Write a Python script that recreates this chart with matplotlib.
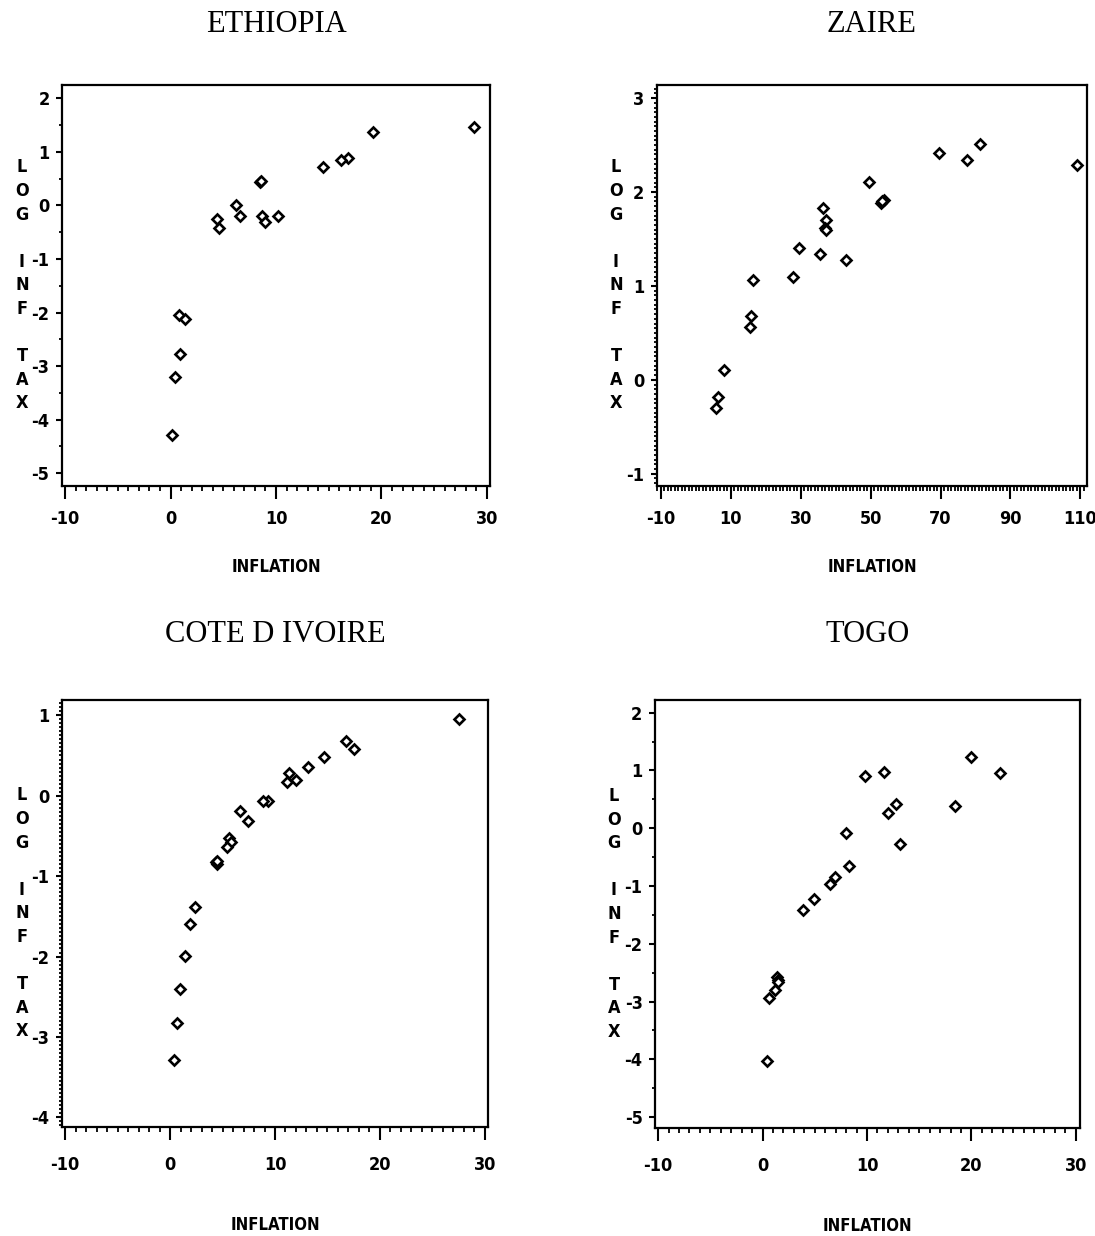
import matplotlib
matplotlib.use('Agg')
import matplotlib.pyplot as plt
from matplotlib.ticker import MultipleLocator

plt.rcParams['axes.unicode_minus'] = False

# data
eth_x = [28.8, 19.2, 16.8, 16.2, 14.5, 8.5, 8.55, 6.2, 6.6, 8.65, 9.0, 10.2, 4.4, 4.55, 0.8, 1.35, 0.87, 0.45, 0.13]
eth_y = [1.47, 1.37, 0.89, 0.84, 0.72, 0.44, 0.45, 0.0, -0.19, -0.19, -0.30, -0.19, -0.25, -0.42, -2.05, -2.13, -2.77, -3.20, -4.29]

zai_x = [109.0, 81.3, 77.7, 69.7, 49.4, 53.0, 53.7, 53.3, 36.5, 37.2, 37.0, 37.1, 29.6, 35.6, 42.9, 27.75, 16.3, 15.8, 15.6, 8.2, 6.3, 5.7]
zai_y = [2.29, 2.51, 2.34, 2.42, 2.11, 1.88, 1.92, 1.90, 1.83, 1.70, 1.62, 1.60, 1.40, 1.34, 1.28, 1.10, 1.06, 0.68, 0.56, 0.11, -0.18, -0.30]

cot_x = [27.5, 16.8, 17.5, 14.7, 13.1, 12.0, 11.3, 11.15, 9.3, 8.9, 7.4, 6.7, 5.6, 5.8, 5.4, 4.4, 4.5, 4.45, 2.4, 1.9, 1.4, 0.96, 0.7, 0.4]
cot_y = [0.95, 0.68, 0.58, 0.48, 0.36, 0.20, 0.28, 0.17, -0.06, -0.07, -0.32, -0.19, -0.52, -0.58, -0.64, -0.83, -0.85, -0.81, -1.39, -1.60, -1.99, -2.41, -2.83, -3.29]

tog_x = [22.7, 20.0, 18.4, 11.6, 9.8, 12.75, 12.0, 13.2, 8.0, 8.25, 6.95, 6.5, 4.9, 3.9, 1.4, 1.45, 1.5, 1.15, 0.6, 0.45]
tog_y = [0.95, 1.23, 0.38, 0.98, 0.90, 0.42, 0.26, -0.27, -0.08, -0.66, -0.85, -0.97, -1.23, -1.41, -2.58, -2.62, -2.67, -2.80, -2.94, -4.03]

countries = ['ETHIOPIA', 'ZAIRE', 'COTE D IVOIRE', 'TOGO']
xs = [eth_x, zai_x, cot_x, tog_x]
ys = [eth_y, zai_y, cot_y, tog_y]
xticks = [[-10, 0, 10, 20, 30], [-10, 10, 30, 50, 70, 90, 110],
          [-10, 0, 10, 20, 30], [-10, 0, 10, 20, 30]]
yticks = [[-5, -4, -3, -2, -1, 0, 1, 2], [-1, 0, 1, 2, 3],
          [-4, -3, -2, -1, 0, 1], [-5, -4, -3, -2, -1, 0, 1, 2]]

# layout (in pixels of a 1095x1236 canvas)
W, H = 1095., 1236.
boxes = [(62, 85, 490, 486), (657, 85, 1087, 486),
         (62, 700, 488, 1127), (655, 700, 1080, 1128)]
xlims = [(-10.3, 30.3), (-11.1, 111.9), (-10.3, 30.3), (-10.3, 30.4)]
ylims = [(-5.24, 2.25), (-1.13, 3.14), (-4.12, 1.19), (-5.19, 2.22)]
yminor = [0.5, 0.05, 0.05, 0.5]
title_y = [24, 634]
ylab_x = [22, 616, 22, 614]
xpad = [8, 12]
xlabpad = [22, 30]

TICKFONT = ['DejaVu Sans Condensed', 'DejaVu Sans']

fig = plt.figure(figsize=(W / 100, H / 100), dpi=100)

for i in range(4):
  l, t, r, b = boxes[i]
  row = i // 2
  ax = fig.add_axes([l / W, 1 - b / H, (r - l) / W, (b - t) / H])
  ax.plot(xs[i], ys[i], linestyle='none', marker='D', markersize=5.6,
          markerfacecolor='white', markeredgecolor='black', markeredgewidth=1.9)
  ax.set_xlim(*xlims[i])
  ax.set_ylim(*ylims[i])
  ax.set_xticks(xticks[i])
  ax.set_yticks(yticks[i])
  ax.xaxis.set_minor_locator(MultipleLocator(1))
  ax.yaxis.set_minor_locator(MultipleLocator(yminor[i]))
  ax.tick_params(axis='x', which='major', direction='out', length=9, width=1.5, pad=xpad[row])
  ax.tick_params(axis='x', which='minor', direction='out', length=3.5, width=1.3)
  ax.tick_params(axis='y', which='major', direction='out', length=4, width=1.5, pad=5)
  ax.tick_params(axis='y', which='minor', direction='out', length=2.5, width=1.3)
  for lab in ax.get_xticklabels() + ax.get_yticklabels():
    lab.set_family(TICKFONT)
    lab.set_stretch('condensed')
    lab.set_fontweight('bold')
    lab.set_fontsize(13)
  for sp in ax.spines.values():
    sp.set_linewidth(1.6)
  ax.set_xlabel('INFLATION', family=TICKFONT, fontstretch='condensed',
                fontweight='bold', fontsize=12, labelpad=xlabpad[row])

  # title and stacked y label
  cx = (l + r) / 2 / W
  fig.text(cx, 1 - title_y[row] / H, countries[i], ha='center', va='center',
           family='Liberation Serif', fontsize=22)
  fig.text(ylab_x[i] / W, 1 - (t + b) / 2 / H, 'L\nO\nG\n\nI\nN\nF\n\nT\nA\nX',
           ha='center', va='center', family=TICKFONT, fontstretch='condensed',
           fontweight='bold', fontsize=13, linespacing=1.4)

fig.savefig('out.png', dpi=100)
